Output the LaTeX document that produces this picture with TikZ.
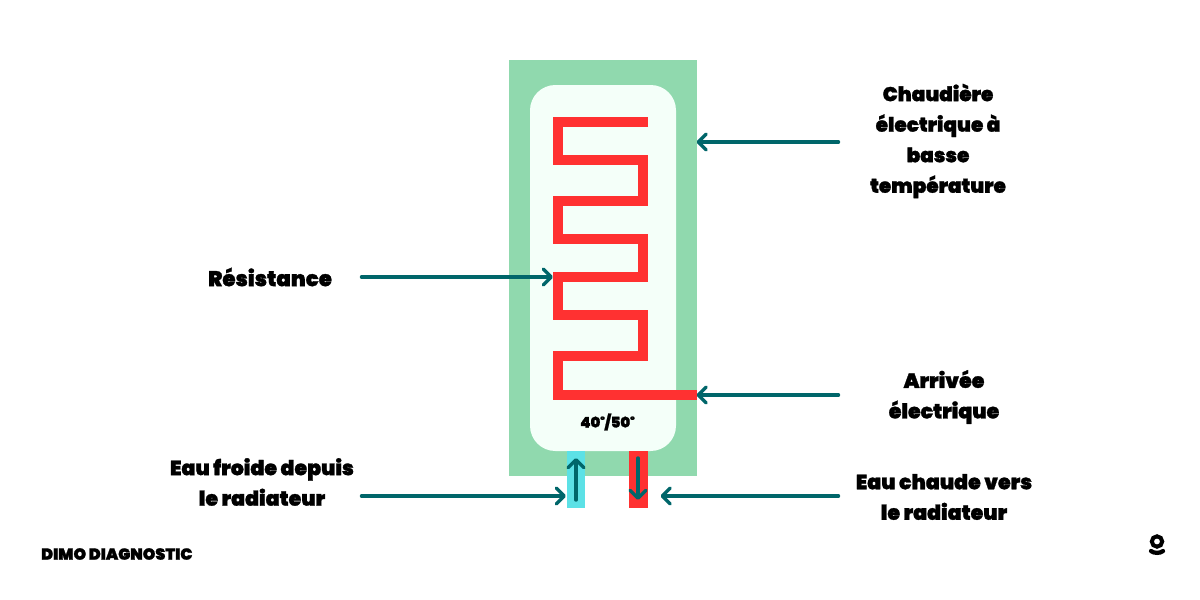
\documentclass[tikz,border=0pt]{standalone}
\usepackage{fontspec}
\setmainfont{Poppins Black}[FakeBold=1.3]
\usetikzlibrary{arrows.meta}
\definecolor{tankgreen}{HTML}{90D9AE}
\definecolor{innerwhite}{HTML}{F4FFF9}
\definecolor{wirered}{HTML}{FF3131}
\definecolor{coldblue}{HTML}{5CE1E6}
\definecolor{teal}{HTML}{00666A}
\newcommand{\degmark}{\raisebox{0.3em}{\fontsize{7}{8}\selectfont °}}
\tikzset{
  label/.style={align=center,font=\fontsize{15.4}{22.9}\selectfont,text=black,inner sep=0pt},
  pointer/.style={draw=teal,line width=2.6pt,line cap=round,-{Straight Barb[length=6pt,width=12pt,line width=2.6pt,round]}},
  wire/.style={draw=wirered,line width=7.5pt,miter limit=10}
}
\begin{document}
\begin{tikzpicture}[x=0.75pt,y=-0.75pt]
\useasboundingbox (0,0) rectangle (1200,600);
\fill[white] (0,0) rectangle (1200,600);
\fill[tankgreen] (509,60) rectangle (697,476);
\fill[innerwhite,rounded corners=19pt] (530,85) rectangle (676,451);
\fill[coldblue] (567,451) rectangle (585,508);
\fill[wirered] (629,451) rectangle (648,508);
\draw[wire] (648,122) -- (558,122) -- (558,160) -- (643,160) -- (643,200.7) -- (558,200.7) -- (558,239) -- (643,239) -- (643,277) -- (558,277) -- (558,315) -- (643,315) -- (643,356) -- (558,356) -- (558,394.5) -- (697,394.5);
\node[label] (temp) at (607.5,422) {\fontsize{11}{12}\selectfont 40\degmark/50\degmark};
\node[label,font=\fontsize{15}{22.9}\selectfont] (boiler) at (938,141) {Chaudière\\électrique à\\basse\\température};
\node[label,font=\fontsize{16}{22.9}\selectfont] (res) at (270,277) {Résistance};
\node[label] (elec) at (944,397) {Arrivée\\électrique};
\node[label] (cold) at (262,482) {Eau froide depuis\\le radiateur};
\node[label] (hot) at (944,497) {Eau chaude vers\\le radiateur};
\node[label,anchor=west] (brand) at (41,554) {\fontsize{12}{12}\selectfont DIMO DIAGNOSTIC};
\coordinate (a1s) at (838.5,142); \coordinate (a1e) at (696.5,142);
\coordinate (a2s) at (361.5,277); \coordinate (a2e) at (553,277);
\coordinate (a3s) at (838.5,395); \coordinate (a3e) at (696.5,395);
\coordinate (a4s) at (361.5,496); \coordinate (a4e) at (566,496);
\coordinate (a5s) at (838.5,496); \coordinate (a5e) at (660.5,496);
\coordinate (a6s) at (576,500); \coordinate (a6e) at (576,458);
\coordinate (a7s) at (638,458); \coordinate (a7e) at (638,500);
\foreach \n in {1,...,7} \draw[pointer] (a\n s) -- (a\n e);
\draw[black,line width=3pt] (1157,541.5) circle[radius=5.2];
\draw[black,line width=3.2pt,line cap=round] (1151,551) .. controls (1154,553.5) and (1160,553.5) .. (1163,551);
\end{tikzpicture}
\end{document}
